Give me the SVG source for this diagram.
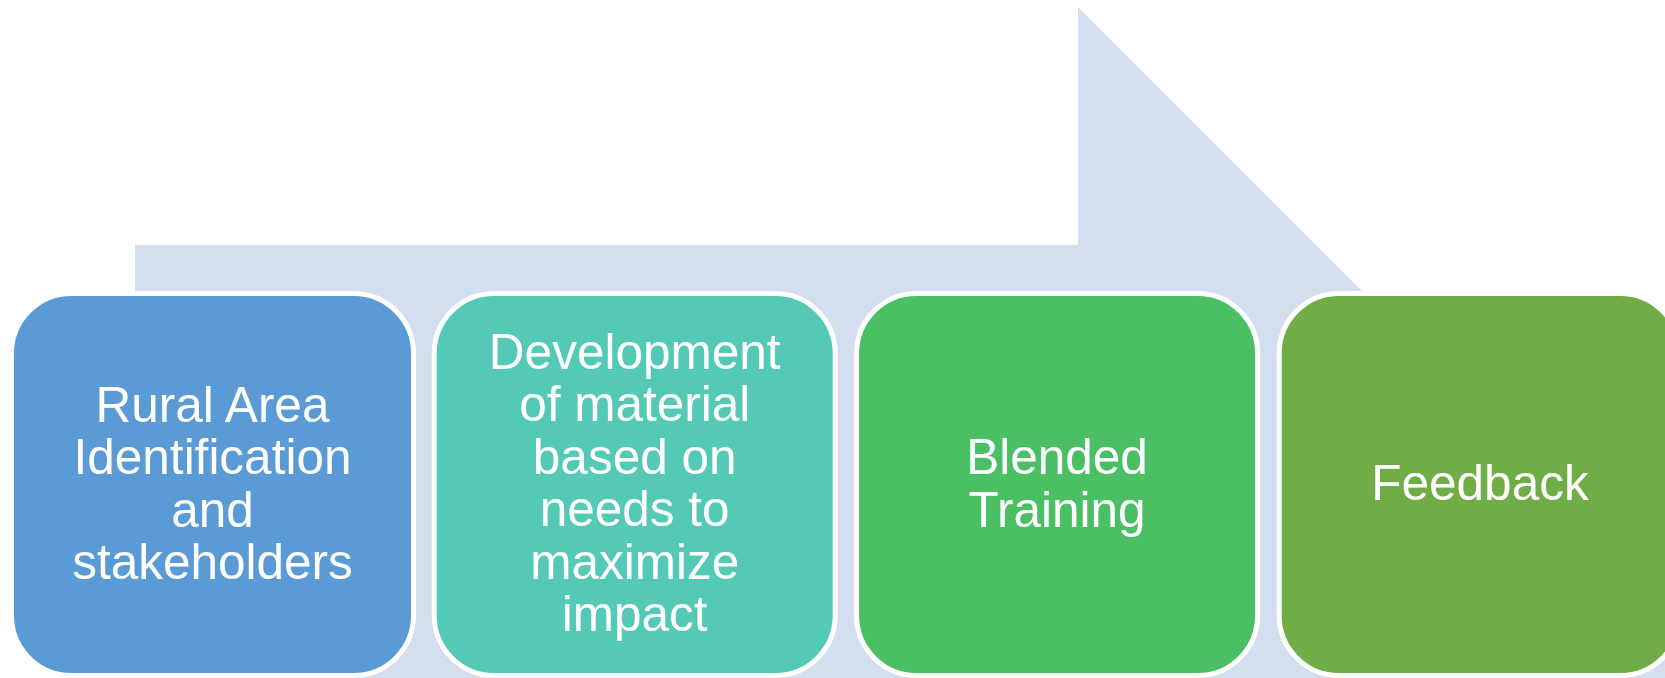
<svg xmlns="http://www.w3.org/2000/svg" width="1665" height="678" viewBox="0 0 1665 678">
<style>
.box{stroke:#FFFFFF;stroke-width:5}
.t{font-family:"Liberation Sans",Arial,sans-serif;font-size:49.5px;fill:#FFFFFF;text-anchor:middle}
</style>
<rect width="1665" height="678" fill="#FFFFFF"/>
<g id="connectors">
<polygon points="135,245 1078,245 1078,7 1771,700 135,700" fill="#D3DEEF"/>
</g>
<g id="node1">
<rect class="box" x="11.5" y="293.5" width="402" height="382" rx="60" ry="60" fill="#5B9BD5"/>
<text class="t" x="212.5"><tspan x="212.5" y="421.5">Rural Area</tspan><tspan x="212.5" y="474">Identification</tspan><tspan x="212.5" y="526.5">and</tspan><tspan x="212.5" y="578.5">stakeholders</tspan></text>
</g>
<g id="node2">
<rect class="box" x="434.2" y="293.5" width="401" height="382" rx="60" ry="60" fill="#54C9B6"/>
<text class="t"><tspan x="634.7" y="368.5">Development</tspan><tspan x="634.7" y="421">of material</tspan><tspan x="634.7" y="473.5">based on</tspan><tspan x="634.7" y="526">needs to</tspan><tspan x="634.7" y="578.5">maximize</tspan><tspan x="634.7" y="631">impact</tspan></text>
</g>
<g id="node3">
<rect class="box" x="856.6" y="293.5" width="401" height="382" rx="60" ry="60" fill="#4ABF64"/>
<text class="t"><tspan x="1057" y="474">Blended</tspan><tspan x="1057" y="526.5">Training</tspan></text>
</g>
<g id="node4">
<rect class="box" x="1279.2" y="293.5" width="401" height="382" rx="60" ry="60" fill="#70AD47"/>
<text class="t"><tspan x="1480" y="500">Feedback</tspan></text>
</g>
</svg>
